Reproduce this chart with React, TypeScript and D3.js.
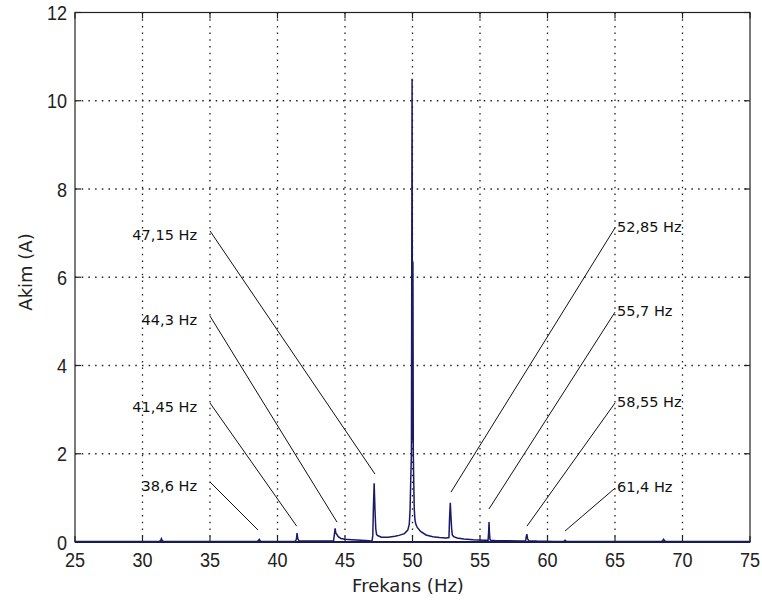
import React from "react";
import * as d3 from "d3";

// Spectrum (Hz, A)
const freqs = [
  25, 31.25, 31.35, 31.4, 31.45, 31.55, 38.5, 38.6, 38.65, 38.7, 38.8,
  41.3, 41.4, 41.45, 41.5, 41.6, 44.15, 44.22, 44.27, 44.32, 44.4, 44.5, 44.7, 45.0, 45.5, 46.2, 46.8, 47.0,
  47.06, 47.1, 47.16, 47.22, 47.28, 47.34, 47.45, 47.7, 48.2, 48.7, 49.0, 49.4, 49.65, 49.76, 49.82,
  49.87, 49.92, 49.97, 50.0, 50.03, 50.06, 50.09, 50.13, 50.18, 50.25, 50.35, 50.6, 51.0, 51.5, 52.0, 52.5,
  52.7, 52.75, 52.8, 52.85, 52.9, 52.95, 53.05, 53.3, 53.8, 54.5, 55.3, 55.6, 55.64, 55.67, 55.7, 55.74,
  55.8, 56.2, 57.0, 58.0, 58.38, 58.43, 58.47, 58.52, 58.6, 59.2, 60.5, 61.2, 61.3, 61.4, 62.0,
  68.45, 68.55, 68.6, 68.65, 68.75, 75,
];
const amps = [
  0.01, 0.01, 0.04, 0.075, 0.04, 0.01, 0.01, 0.04, 0.06, 0.03, 0.01,
  0.01, 0.06, 0.2, 0.08, 0.02, 0.02, 0.19, 0.31, 0.2, 0.17, 0.12, 0.08, 0.06, 0.05, 0.04, 0.03, 0.01,
  0.15, 0.73, 1.33, 0.73, 0.3, 0.17, 0.14, 0.11, 0.11, 0.13, 0.15, 0.19, 0.27, 0.4, 0.72,
  1.4, 2.0, 10.5, 2.3, 6.35, 2.0, 1.4, 0.75, 0.5, 0.4, 0.33, 0.24, 0.16, 0.12, 0.1, 0.09,
  0.1, 0.57, 0.89, 0.57, 0.3, 0.16, 0.12, 0.09, 0.07, 0.05, 0.04, 0.04, 0.23, 0.45, 0.2, 0.06,
  0.04, 0.03, 0.03, 0.02, 0.03, 0.12, 0.18, 0.08, 0.03, 0.02, 0.01, 0.01, 0.04, 0.01, 0.01,
  0.01, 0.04, 0.06, 0.04, 0.01, 0.01,
];

// Annotations: label, tail (Hz, A) at the text, head (Hz, A) at the peak
const labels = ["47,15 Hz", "44,3 Hz", "41,45 Hz", "38,6 Hz", "52,85 Hz", "55,7 Hz", "58,55 Hz", "61,4 Hz"];
const tailF = [35, 35, 35, 35, 65, 65, 65, 65];
const tailA = [7.05, 5.12, 3.15, 1.36, 7.12, 5.21, 3.15, 1.22];
const headF = [47.22, 44.41, 41.42, 38.56, 52.85, 55.67, 58.48, 61.3];
const headA = [1.54, 0.45, 0.36, 0.27, 1.13, 0.75, 0.36, 0.25];
const sides = ["left", "left", "left", "left", "right", "right", "right", "right"];

const xTicks = [25, 30, 35, 40, 45, 50, 55, 60, 65, 70, 75];
const yTicks = [0, 2, 4, 6, 8, 10, 12];

const W = 762;
const H = 605;
const L = 75, R = 750, T = 12.5, B = 542;

export default function App() {
  const x = d3.scaleLinear().domain([25, 75]).range([L, R]);
  const y = d3.scaleLinear().domain([0, 12]).range([B, T]);
  const line = d3
    .line<number>()
    .x((_, i) => x(freqs[i]))
    .y((d) => y(d));
  const tickFont = "'Liberation Sans', Arial, sans-serif";
  const labFont = "'DejaVu Sans', sans-serif";
  const dots = "1.5,5.2";
  return (
    <svg width={W} height={H} style={{ position: "absolute", left: 0, top: 0, background: "#fff" }}>
      <rect x={0} y={0} width={W} height={H} fill="#fff" />
      {/* grid */}
      {xTicks.slice(1, -1).map((t) => (
        <line key={"gx" + t} x1={x(t)} x2={x(t)} y1={T} y2={B} stroke="#222" strokeWidth={1.3} strokeDasharray={dots} />
      ))}
      {yTicks.slice(1, -1).map((t) => (
        <line key={"gy" + t} x1={L} x2={R} y1={y(t)} y2={y(t)} stroke="#222" strokeWidth={1.3} strokeDasharray={dots} />
      ))}
      {/* ticks */}
      {xTicks.map((t) => (
        <g key={"tx" + t}>
          <line x1={x(t)} x2={x(t)} y1={B} y2={B - 6} stroke="#222" strokeWidth={1.2} />
          <line x1={x(t)} x2={x(t)} y1={T} y2={T + 6} stroke="#222" strokeWidth={1.2} />
          <text
            transform={`translate(${x(t)}, 559) scale(0.86, 1)`}
            textAnchor="middle"
            dominantBaseline="central"
            fontFamily={tickFont}
            fontSize={21}
            fill="#222"
          >
            {t}
          </text>
        </g>
      ))}
      {yTicks.map((t) => (
        <g key={"ty" + t}>
          <line x1={L} x2={L + 6} y1={y(t)} y2={y(t)} stroke="#222" strokeWidth={1.2} />
          <line x1={R} x2={R - 6} y1={y(t)} y2={y(t)} stroke="#222" strokeWidth={1.2} />
          <text
            transform={`translate(67, ${y(t)}) scale(0.86, 1)`}
            textAnchor="end"
            dominantBaseline="central"
            fontFamily={tickFont}
            fontSize={21}
            fill="#222"
          >
            {t}
          </text>
        </g>
      ))}
      {/* annotations */}
      {labels.map((lab, i) => {
        const tx = x(tailF[i]);
        const ty = y(tailA[i]);
        const left = sides[i] === "left";
        return (
          <g key={"an" + i}>
            <line x1={tx} y1={ty} x2={x(headF[i])} y2={y(headA[i])} stroke="#111" strokeWidth={1} />
            <text
              x={left ? tx - 13 : tx + 2}
              y={ty + (left ? 4 : -1)}
              textAnchor={left ? "end" : "start"}
              dominantBaseline="central"
              fontFamily={labFont}
              fontSize={14.5}
              fill="#111"
            >
              {lab}
            </text>
          </g>
        );
      })}
      {/* spectrum */}
      <path d={line(amps) || ""} fill="none" stroke="#1a1a66" strokeWidth={1.5} strokeLinejoin="miter" />
      {/* frame */}
      <rect x={L} y={T} width={R - L} height={B - T} fill="none" stroke="#222" strokeWidth={1.2} />
      <line x1={L} x2={R} y1={B} y2={B} stroke="#1a1a55" strokeWidth={2} />
      {/* axis labels */}
      <text x={408} y={585} textAnchor="middle" dominantBaseline="central" fontFamily={labFont} fontSize={18} fill="#222">
        Frekans (Hz)
      </text>
      <text
        transform={`translate(25, 272) rotate(-90)`}
        textAnchor="middle"
        dominantBaseline="central"
        fontFamily={labFont}
        fontSize={18}
        fill="#222"
      >
        Akim (A)
      </text>
    </svg>
  );
}
